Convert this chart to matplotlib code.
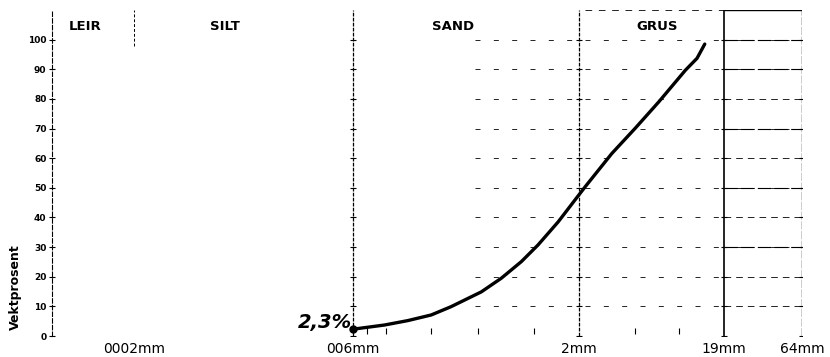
import numpy as np
import matplotlib.pyplot as plt

# Kornfordelingskurve (sikteanalyse)
grain_mm = [0.06, 0.0975, 0.1405, 0.202, 0.275, 0.44, 0.60, 0.819, 1.06, 1.45,
            2.0, 2.21, 3.34, 4.8, 6.92, 10.47, 12.53, 14.13]
passing_pct = [2.3, 3.7, 5.2, 7.1, 9.9, 14.9, 19.5, 25.1, 30.7, 38.5,
               47.6, 50.4, 61.6, 70.1, 79.0, 89.7, 93.7, 98.5]

boundaries_mm = [0.002, 0.06, 2, 19, 64]
boundary_labels = ['0002mm', '006mm', '2mm', '19mm', '64mm']

fractions = ['LEIR', 'SILT', 'SAND', 'GRUS']
fraction_centers_mm = [0.00094, 0.0082, 0.284, 6.7]

sieve_mm = [0.074, 0.1, 0.2, 0.42, 1.0, 4.76, 9.5]
y_levels = [0, 10, 20, 30, 40, 50, 60, 70, 80, 90, 100]

fig = plt.figure(figsize=(8.3, 3.57), dpi=100)
ax = fig.add_axes([0.0627, 0.0588, 0.9036, 0.9132])
ax.set_xscale('log')
ax.set_xlim(0.00056, 64)
ax.set_ylim(0, 110)

for s in ['top', 'right', 'bottom']:
    ax.spines[s].set_visible(False)
ax.spines['left'].set_linestyle((0, (4, 2)))
ax.spines['left'].set_linewidth(0.8)

# horisontale hjelpelinjer (glisne streker)
ax.hlines(y_levels[1:], 0.4, 19, colors='black', linewidth=0.6,
          linestyles=(0, (6, 16)))
ax.hlines(y_levels[1:], 19, 64, colors='black', linewidth=0.6,
          linestyles=(0, (8, 6)))
ax.hlines([30, 50, 70, 90, 100], 19, 64, colors='black', linewidth=0.8,
          linestyles=(0, (12, 3)))

# fraksjonsgrenser
ax.vlines(boundaries_mm[0], 98, 110, colors='black', linewidth=0.7,
          linestyles=(0, (3, 2)))
ax.vlines(boundaries_mm[1:3], 0, 110, colors='black', linewidth=0.9,
          linestyles=(0, (3, 1)))
ax.vlines(boundaries_mm[3], 0, 110, colors='black', linewidth=1.2)
ax.vlines(boundaries_mm[4], 0, 110, colors='black', linewidth=1.0,
          linestyles=(0, (6, 1)))
ax.hlines(110, 19, 64, colors='black', linewidth=1.0)
ax.hlines(110, 2.2, 19, colors='black', linewidth=0.6, linestyles=(0, (8, 8)))

for b in boundaries_mm[1:]:
    ax.plot([b] * len(y_levels), y_levels, linestyle='none', marker='_',
            markersize=5, color='black', markeredgewidth=0.8)

ax.plot(sieve_mm, [1.7] * len(sieve_mm), linestyle='none', marker='|',
        markersize=4, color='black', markeredgewidth=0.8)

# kurven
ax.plot(grain_mm, passing_pct, color='black', linewidth=2.4,
        solid_capstyle='round', solid_joinstyle='round')
ax.plot(grain_mm[0], passing_pct[0], marker='o', markersize=5, color='black')
ax.text(0.059, 4.7, '2,3%', ha='right', va='center', fontsize=14,
        style='italic', fontweight='bold')

for name, xc in zip(fractions, fraction_centers_mm):
    ax.text(xc, 104.5, name, ha='center', va='center', fontsize=9.5,
            fontweight='bold')

ax.set_yticks(y_levels)
ax.set_yticklabels([str(v) for v in y_levels], fontsize=6.5, fontweight='bold')
ax.tick_params(axis='y', direction='inout', length=4, width=0.8, pad=2)

ax.set_xticks(boundaries_mm)
ax.set_xticklabels(boundary_labels, fontsize=10)
ax.xaxis.set_minor_locator(plt.NullLocator())
ax.tick_params(axis='x', length=0, pad=4)

fig.text(0.019, 0.196, 'Vektprosent', rotation=90, ha='center', va='center',
         fontsize=9, fontweight='bold')

fig.savefig('out.png', dpi=100)
